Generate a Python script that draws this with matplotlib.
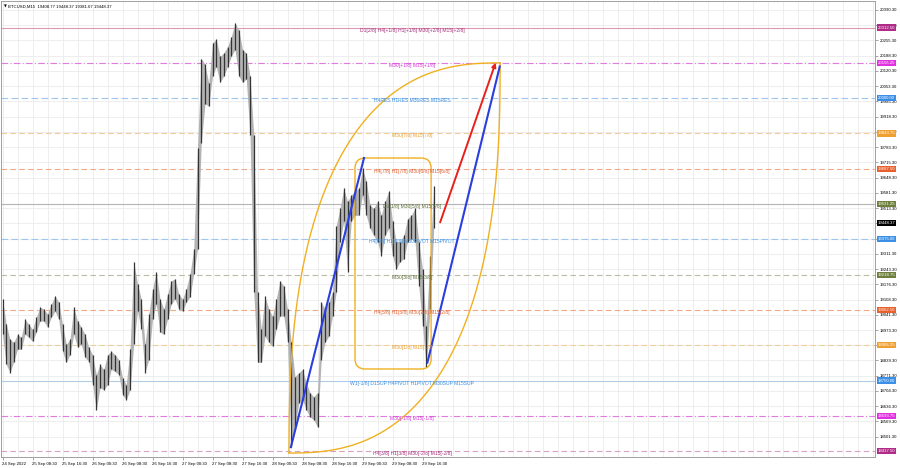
import numpy as np
import matplotlib
matplotlib.use('Agg')
import matplotlib.pyplot as plt
from matplotlib.patches import FancyBboxPatch
from matplotlib.transforms import blended_transform_factory

plt.rcParams['font.family'] = ['Liberation Sans', 'DejaVu Sans']

# hourly bars, hour 0 = 25 Sep 00:30
bar_hour = list(range(116))
bar_high = [19111, 18999, 18932, 18919, 18955, 18941, 19021, 18999, 18977, 19030,
            19075, 19066, 19044, 19088, 19124, 19097, 18999, 18910, 18932, 19075,
            19013, 18986, 18955, 18897, 18865, 18776, 18821, 18799, 18865, 18879,
            18865, 18843, 18763, 18732, 18888, 19276, 19177, 19111, 18910, 19044,
            19155, 19231, 19111, 19066, 19133, 19191, 19200, 19133, 19111, 19155,
            19222, 19334, 19779, 20175, 20150, 20065, 20245, 20260, 20185, 20200,
            20228, 20272, 20333, 20303, 20215, 20200, 20100, 19837, 19142, 18977,
            19124, 19066, 19035, 19111, 19191, 19169, 19066, 18919, 18767, 18785,
            18799, 18741, 18696, 18678, 18696, 19097, 19066, 19097, 19142, 19436,
            19512, 19601, 19543, 19570, 19588, 19601, 19690, 19632, 19525, 19512,
            19543, 19481, 19543, 19588, 19454, 19365, 19365, 19392, 19467, 19481,
            19512, 19365, 19244, 18990, 19302, 19610]
bar_low = [18955, 18821, 18785, 18834, 18888, 18888, 18955, 18941, 18923, 18964,
           19013, 19013, 18986, 19030, 19057, 19021, 18879, 18830, 18865, 18955,
           18897, 18910, 18852, 18834, 18732, 18620, 18718, 18709, 18732, 18799,
           18790, 18776, 18687, 18665, 18709, 18910, 19057, 18977, 18785, 18843,
           19021, 19088, 18964, 18955, 19021, 19088, 19111, 19066, 19057, 19097,
           19120, 19222, 19334, 19800, 19975, 19965, 20098, 20140, 20070, 20098,
           20140, 20185, 20215, 20098, 20070, 20085, 19837, 19142, 18830, 18830,
           18946, 18919, 18901, 18977, 19035, 19035, 18919, 18455, 18544, 18651,
           18665, 18620, 18589, 18576, 18544, 18843, 18919, 18946, 19035, 19142,
           19365, 19454, 19231, 19454, 19481, 19481, 19570, 19481, 19423, 19392,
           19365, 19302, 19392, 19423, 19302, 19244, 19276, 19289, 19365, 19378,
           19365, 19169, 18990, 18812, 19066, 19423]

date_hours = [0, 8, 16, 24, 32, 40, 48, 56, 64, 72, 80, 88, 96, 104, 112]
date_labels = ['24 Sep 2022', '25 Sep 08:30', '25 Sep 16:30', '26 Sep 00:30',
               '26 Sep 08:30', '26 Sep 16:30', '27 Sep 00:30', '27 Sep 08:30',
               '27 Sep 16:30', '28 Sep 00:30', '28 Sep 08:30', '28 Sep 16:30',
               '29 Sep 00:30', '29 Sep 08:30', '29 Sep 16:30']

price_ticks = [20390.30, 20323.30, 20255.30, 20188.30, 20120.30, 20053.30, 19985.30,
               19918.30, 19850.30, 19783.30, 19715.30, 19648.30, 19581.30, 19513.30,
               19446.30, 19378.30, 19311.30, 19243.30, 19176.30, 19108.30, 19041.30,
               18973.30, 18906.30, 18839.30, 18771.30, 18704.30, 18636.30, 18569.30,
               18501.30]
# these sit fully under a price box on the chart
hidden_ticks = [19446.30, 19378.30, 18906.30]

level_prices = [20312.50, 20156.25, 20000.00, 19843.75, 19687.50, 19531.25, 19375.00,
                19218.75, 19062.50, 18906.25, 18750.00, 18593.75, 18437.50]
level_names = ['D1[2/8] H4[+1/8] H1[+1/8] M30[+2/8] M15[+2/8]',
               'M30[+1/8] M15[+1/8]',
               'H4RES H1RES M30RES M15RES',
               'M30[7/8] M15[7/8]',
               'H4[7/8] H1[7/8] M30[6/8] M15[6/8]',
               'D1[1/8] M30[5/8] M15[5/8]',
               'H4[6/8] H1[6/8] M30PIVOT M15PIVOT',
               'M30[3/8] M15[3/8]',
               'H4[5/8] H1[5/8] M30[2/8] M15[2/8]',
               'M30[1/8] M15[1/8]',
               'W1[-1/8] D1SUP H4PIVOT H1PIVOT M30SUP M15SUP',
               'M30[-1/8] M15[-1/8]',
               'H4[3/8] H1[3/8] M30[-2/8] M15[-2/8]']

title = 'BTCUSD,M15  19408.77 19448.37 19381.67 19448.37'
last_price = 19448.37

# chart objects (hour, price)
arc_corners = [(76.4, 18429.0), (132.7, 20156.0)]
box_corners = [(94.0, 18801.0), (114.3, 19735.0)]
blue_line_1 = [(76.9, 18455.0), (96.4, 19735.0)]
blue_line_2 = [(113.3, 18829.0), (132.6, 20140.0)]
red_arrow = [(116.7, 19450.0), (131.5, 20157.0)]

# text colour, box colour, line colour, line style per level
level_styles = [
    ('#a8307f', '#b02a88', '#dc9ab4', '-'),
    ('#d838d8', '#e030e0', '#e07ce0', (0, (6, 2, 1, 2))),
    ('#3a8ee0', '#3c8fe6', '#9cc6ee', (0, (6, 3))),
    ('#e8a030', '#f0a030', '#f0cc98', (0, (5, 3))),
    ('#e06030', '#e8602c', '#f0a888', (0, (5, 3))),
    ('#5e6e3a', '#6e7f3c', '#b4b4b4', '-'),
    ('#3a8ee0', '#3c8fe6', '#9cc6ee', (0, (6, 3))),
    ('#5e6e3a', '#6e7f3c', '#b8bca0', (0, (5, 3))),
    ('#e06030', '#e8602c', '#f0a888', (0, (5, 3))),
    ('#e8a030', '#f0a030', '#f0cc98', (0, (5, 3))),
    ('#3a8ee0', '#3c8fe6', '#b0cde8', '-'),
    ('#d838d8', '#e030e0', '#e07ce0', (0, (6, 2, 1, 2))),
    ('#a8307f', '#b02a88', '#d8a0c4', (0, (5, 3))),
]

ORANGE = '#f0b020'
BLUE = '#2a3ee0'
RED = '#e8201c'


def draw_arcs(ax, corner_a, corner_b, power=2.5):
    """Two bulging arcs joining the corners, like the drawn lens on the chart."""
    pa = ax.transData.transform(corner_a)
    pb = ax.transData.transform(corner_b)
    rx, ry = pb[0] - pa[0], pb[1] - pa[1]
    th = np.linspace(0, np.pi / 2, 200)
    c = np.cos(th) ** (2 / power)
    s = np.sin(th) ** (2 / power)
    upper = np.column_stack([pb[0] - rx * c, pa[1] + ry * s])
    lower = np.column_stack([pa[0] + rx * c, pb[1] - ry * s])
    inv = ax.transData.inverted()
    for pts in (upper, lower):
        d = inv.transform(pts)
        ax.plot(d[:, 0], d[:, 1], color=ORANGE, lw=1.0, zorder=4)


fig = plt.figure(figsize=(9, 4.68), dpi=100)
ax = fig.add_axes([1 / 900, 11 / 468, 874 / 900, 456 / 468])
ax.set_xlim(-0.4, -0.4 + 874 / 3.75)
ax.set_ylim(18411.4, 20430.1)

for s in ax.spines.values():
    s.set_color('#a0a0a0')
    s.set_linewidth(0.7)

# grid
for h in np.arange(0, 233, 4):
    ax.axvline(h, color='#ebebeb', lw=0.6, zorder=0)
for p in price_ticks:
    ax.axhline(p, color='#ebebeb', lw=0.6, zorder=0)

# levels
blend = blended_transform_factory(ax.transAxes, ax.transData)
for price, name, st in zip(level_prices, level_names, level_styles):
    tcol, bcol, lcol, ls = st
    ax.axhline(price, color=lcol, lw=0.8, ls=ls, zorder=1)
    ax.text(109.2, price, name, color=tcol, fontsize=3.6, ha='center', va='top', zorder=5)
    ax.text(1.003, price, f'{price:.2f}', transform=blend, color='white', fontsize=3.1,
            ha='left', va='center', zorder=6, clip_on=False,
            bbox=dict(boxstyle='square,pad=0.25', fc=bcol, ec='none'))
ax.text(1.003, last_price, f'{last_price:.2f}', transform=blend, color='white', fontsize=3.1,
        ha='left', va='center', zorder=6, clip_on=False,
        bbox=dict(boxstyle='square,pad=0.25', fc='black', ec='none'))

# bars
ax.fill_between(bar_hour, bar_low, bar_high, color='#b4b4b4', lw=0, zorder=2)
ax.vlines(bar_hour, bar_low, bar_high, color='#333333', lw=0.9, zorder=2)

# objects
draw_arcs(ax, arc_corners[0], arc_corners[1])
(b0, p0), (b1, p1) = box_corners
aspect = (20430.1 - 18411.4) / 456 / ((874 / 3.75) / 874)
box = FancyBboxPatch((b0, p0), b1 - b0, p1 - p0,
                     boxstyle='round,pad=0,rounding_size=2.7', mutation_aspect=aspect,
                     fc='none', ec=ORANGE, lw=1.0, zorder=4)
ax.add_patch(box)
for seg in (blue_line_1, blue_line_2):
    ax.plot([seg[0][0], seg[1][0]], [seg[0][1], seg[1][1]], color=BLUE, lw=1.5, zorder=4)
ax.annotate('', xy=red_arrow[1], xytext=red_arrow[0],
            arrowprops=dict(arrowstyle='-|>', color=RED, lw=1.4, mutation_scale=6,
                            shrinkA=0, shrinkB=0), zorder=4)

# axes ticks
ax.yaxis.tick_right()
ax.set_yticks(price_ticks)
ax.set_yticklabels(['' if p in hidden_ticks else f'{p:.2f}' for p in price_ticks])
ax.set_xticks(date_hours)
ax.set_xticklabels(date_labels, ha='left')
ax.tick_params(axis='both', labelsize=3.1, length=2, width=0.5, color='#808080', pad=1.5)

ax.text(0.0035, 0.992, '\u25bc', transform=ax.transAxes, fontsize=2.6, ha='left', va='top',
        family=['DejaVu Sans'])
ax.text(0.0075, 0.993, title, transform=ax.transAxes, fontsize=3.1, ha='left', va='top')

fig.savefig('out.png', dpi=100, facecolor='white')
